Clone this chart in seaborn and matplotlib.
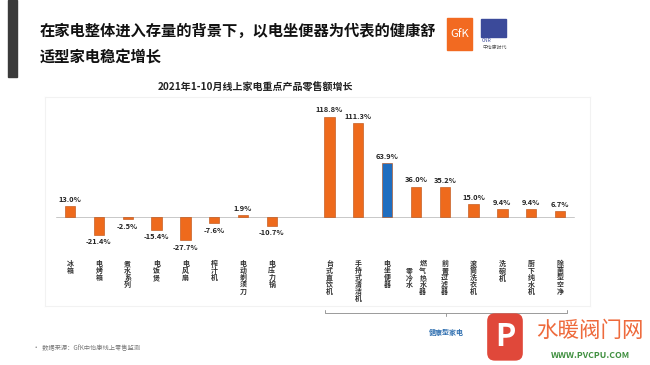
import numpy as np
import pandas as pd
import matplotlib.pyplot as plt
import seaborn as sns
from matplotlib.patches import Rectangle

# Products and 2021 Jan-Oct online retail growth (%)
products = ["冰箱", "电烤箱", "煮水系列", "电饭煲", "电风扇", "榨汁机", "电动剃须刀", "电压力锅",
            " ",
            "台式直饮机", "手持式清洁机", "电坐便器", "燃气热水器/零冷水", "前置过滤器",
            "滚筒洗衣机", "洗碗机", "厨下纯水机", "除菌型空净"]
growth = [13.0, -21.4, -2.5, -15.4, -27.7, -7.6, 1.9, -10.7,
          np.nan,
          118.8, 111.3, 63.9, 36.0, 35.2, 15.0, 9.4, 9.4, 6.7]
highlight = "电坐便器"
healthy_group = "健康型家电"

orange = "#EE6A1C"
blue = "#1F6DBF"

df = pd.DataFrame({"product": products, "growth": growth})
palette = {p: (blue if p == highlight else orange) for p in products}

sns.set_theme(style="white")
plt.rcParams["font.family"] = ["Noto Sans CJK SC", "DejaVu Sans"]

fig = plt.figure(figsize=(6.5, 3.65), dpi=100)
ax = fig.add_axes([45 / 650, 1 - 306 / 365, 545 / 650, 209 / 365])

sns.barplot(data=df, x="product", y="growth", hue="product", palette=palette,
            order=products, legend=False, width=0.36, ax=ax,
            edgecolor="#B94A0C", linewidth=0.4, saturation=1)

ax.set_ylim(-105.7, 142.5)
ax.set_xlim(-0.87, 18.04)
ax.set_xlabel("")
ax.set_ylabel("")
ax.set_xticks([])
ax.set_yticks([])
for s in ax.spines.values():
    s.set_color("#f2f2f2")
    s.set_linewidth(0.8)

ax.axhline(0, xmin=0.02, xmax=0.97, color="#c8c8c8", lw=0.7, zorder=0)

# value labels
for i, v in enumerate(growth):
    if np.isnan(v):
        continue
    ax.annotate(f"{v:.1f}%", (i, v), xytext=(0, 2.5 if v > 0 else -2.5),
                textcoords="offset points", ha="center",
                va="bottom" if v > 0 else "top",
                fontsize=5.4, fontweight="bold", color="#222222")

# vertical (stacked) category labels
top_y = -51
pitch = 8.4
for i, name in enumerate(products):
    if not name.strip():
        continue
    cols = name.split("/")
    if len(cols) == 1:
        ax.text(i, top_y, "\n".join(cols[0]), ha="center", va="top",
                fontsize=5.0, fontweight="bold", color="#333333", linespacing=1.0)
    else:
        ax.text(i + 0.24, top_y, "\n".join(cols[0]), ha="center", va="top",
                fontsize=5.0, fontweight="bold", color="#333333", linespacing=1.0)
        shift = (len(cols[0]) - len(cols[1])) / 2 * pitch
        ax.text(i - 0.24, top_y - shift, "\n".join(cols[1]), ha="center", va="top",
                fontsize=5.0, fontweight="bold", color="#333333", linespacing=1.0)

# bracket for the healthy-appliance group
x0 = products.index("台式直饮机") - 0.15
x1 = len(products) - 1 + 0.25
xm = (x0 + x1) / 2
by = -114
ax.plot([x0, x0, x1, x1], [by + 3, by, by, by + 3], color="#9a9a9a", lw=0.7, clip_on=False)
ax.plot([xm, xm], [by, by - 3], color="#9a9a9a", lw=0.7, clip_on=False)
ax.text(xm, -137, healthy_group, ha="center", va="center", fontsize=5.0,
        color="#2F6FB0", fontweight="bold")

# titles
fig.text(40 / 650, 1 - 31 / 365, "在家电整体进入存量的背景下，以电坐便器为代表的健康舒",
         fontsize=11, fontweight="bold", color="#111111", va="center")
fig.text(40 / 650, 1 - 58 / 365, "适型家电稳定增长",
         fontsize=11, fontweight="bold", color="#111111", va="center")
fig.text(255 / 650, 1 - 88 / 365, "2021年1-10月线上家电重点产品零售额增长",
         fontsize=7.2, fontweight="bold", color="#222222", ha="center", va="center")
fig.text(33 / 650, 1 - 348 / 365, "•  数据来源：GfK中怡康线上零售监测",
         fontsize=4.5, color="#777777", va="center")

# left dark bar
fig.patches.append(Rectangle((8 / 650, 1 - 77 / 365), 9 / 650, 77 / 365,
                             transform=fig.transFigure, color="#3a3a3a"))

# logos
fig.patches.append(Rectangle((447 / 650, 1 - 50 / 365), 25 / 650, 32 / 365,
                             transform=fig.transFigure, color="#F26A21"))
fig.text(459.5 / 650, 1 - 34 / 365, "GfK", color="white", fontsize=8,
         ha="center", va="center")
fig.patches.append(Rectangle((481 / 650, 1 - 37 / 365), 25 / 650, 18 / 365,
                             transform=fig.transFigure, color="#3B4A9A"))
fig.text(482 / 650, 1 - 41 / 365, "CNR", fontsize=3.5, color="#3B4A9A", va="center")
fig.text(482 / 650, 1 - 47 / 365, "中怡康时代", fontsize=3.5, color="#555555", va="center")

# watermark
fig.text(505 / 650, 1 - 337 / 365, "P", fontsize=22, color="white", fontweight="bold",
         style="italic", ha="center", va="center",
         bbox=dict(boxstyle="round,pad=0.25", fc="#E0483A", ec="none"))
fig.text(590 / 650, 1 - 331 / 365, "水暖阀门网", fontsize=15.5, color="#EE6A3C",
         ha="center", va="center")
fig.text(590 / 650, 1 - 355 / 365, "WWW.PVCPU.COM", fontsize=6.3, color="#3F8F3F",
         fontweight="bold", ha="center", va="center")

fig.savefig("out.png", dpi=100)
